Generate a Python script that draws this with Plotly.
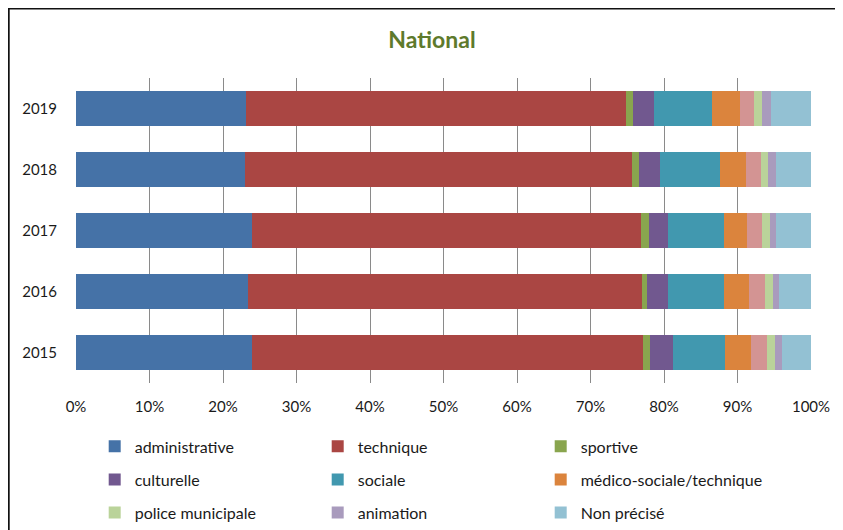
import plotly.graph_objects as go

years = ["2015", "2016", "2017", "2018", "2019"]

administrative = [23.9, 23.4, 24.0, 23.0, 23.1]
technique = [53.3, 53.6, 52.9, 52.7, 51.7]
sportive = [0.9, 0.7, 1.0, 0.9, 1.0]
culturelle = [3.1, 2.9, 2.6, 2.8, 2.8]
sociale = [7.1, 7.5, 7.6, 8.2, 7.9]
medico = [3.5, 3.5, 3.2, 3.5, 3.9]
autre = [2.2, 2.1, 2.0, 2.1, 1.9]
police = [1.1, 1.1, 1.1, 0.9, 1.1]
animation = [0.9, 0.8, 0.9, 1.1, 1.2]
non_precise = [4.0, 4.4, 4.7, 4.8, 5.4]

x_ticks = [0, 10, 20, 30, 40, 50, 60, 70, 80, 90, 100]
x_tick_labels = ["0%", "10%", "20%", "30%", "40%", "50%", "60%", "70%", "80%", "90%", "100%"]

series = [
    ("administrative", administrative, "#4572A7", "legend"),
    ("technique", technique, "#AA4643", "legend"),
    ("sportive", sportive, "#89A54E", "legend"),
    ("culturelle", culturelle, "#71588F", "legend2"),
    ("sociale", sociale, "#4198AF", "legend2"),
    ("médico-sociale/technique", medico, "#DB843D", "legend2"),
    ("autre", autre, "#D39493", None),
    ("police municipale", police, "#BAD39A", "legend3"),
    ("animation", animation, "#A99BBD", "legend3"),
    ("Non précisé", non_precise, "#93C1D3", "legend3"),
]

FONT = "Lato, 'Liberation Sans', sans-serif"

fig = go.Figure()
for name, vals, color, leg in series:
    kw = dict(legend=leg) if leg else dict(showlegend=False)
    fig.add_trace(go.Bar(
        y=years, x=vals, name=name, orientation="h",
        marker=dict(color=color, line=dict(width=0)),
        **kw
    ))

# page has an 8px body margin: layout px = screen px - 8
OFF = 8
W, H = 843, 530
ml, mt = 76.3 - OFF, 78.3 - OFF
plot_r, plot_b = 811.3 - OFF, 382.7 - OFF
mr, mb = W - plot_r, H - plot_b
pw, ph = plot_r - ml, plot_b - mt

def px_x(sx):
    return (sx - OFF - ml) / pw

def px_y(sy):
    return (plot_b - (sy - OFF)) / ph

leg_common = dict(
    orientation="h", xanchor="left", yanchor="middle",
    font=dict(family=FONT, size=16, color="#1a1a1a"),
    entrywidth=178, entrywidthmode="pixels", itemwidth=30,
    bgcolor="rgba(0,0,0,0)", traceorder="normal",
)
lx = px_x(95)

fig.update_layout(
    width=W, height=H,
    margin=dict(l=ml, r=mr, t=mt, b=mb, autoexpand=False),
    paper_bgcolor="white", plot_bgcolor="white",
    barmode="stack", bargap=0.43,
    title=dict(text="<b>National</b>", x=(432 - OFF) / W, xanchor="center", y=1 - (40 - OFF) / H, yanchor="middle",
               font=dict(family=FONT, size=23, color="#5E7A2C")),
    font=dict(family=FONT, size=15, color="#1a1a1a"),
    legend=dict(x=lx, y=px_y(446), **leg_common),
    legend2=dict(x=lx, y=px_y(479), **leg_common),
    legend3=dict(x=lx, y=px_y(512), **leg_common),
    xaxis=dict(range=[0, 100], tickvals=x_ticks, ticktext=x_tick_labels,
               showgrid=True, gridcolor="#8A8A8A", gridwidth=1, zeroline=False,
               showline=False, ticks="", ticklabelstandoff=13,
               tickfont=dict(family=FONT, size=15, color="#1a1a1a"), fixedrange=True),
    yaxis=dict(type="category", categoryorder="array", categoryarray=years,
               showgrid=False, zeroline=False, showline=False, ticks="",
               ticklabelstandoff=18,
               tickfont=dict(family=FONT, size=15, color="#1a1a1a"), fixedrange=True),
    shapes=[dict(type="rect", xref="paper", yref="paper",
                 x0=px_x(9), x1=px_x(870), y0=px_y(560), y1=px_y(9),
                 line=dict(color="#111111", width=2), fillcolor="rgba(0,0,0,0)", layer="above")],
)

fig.write_html("out.html")
